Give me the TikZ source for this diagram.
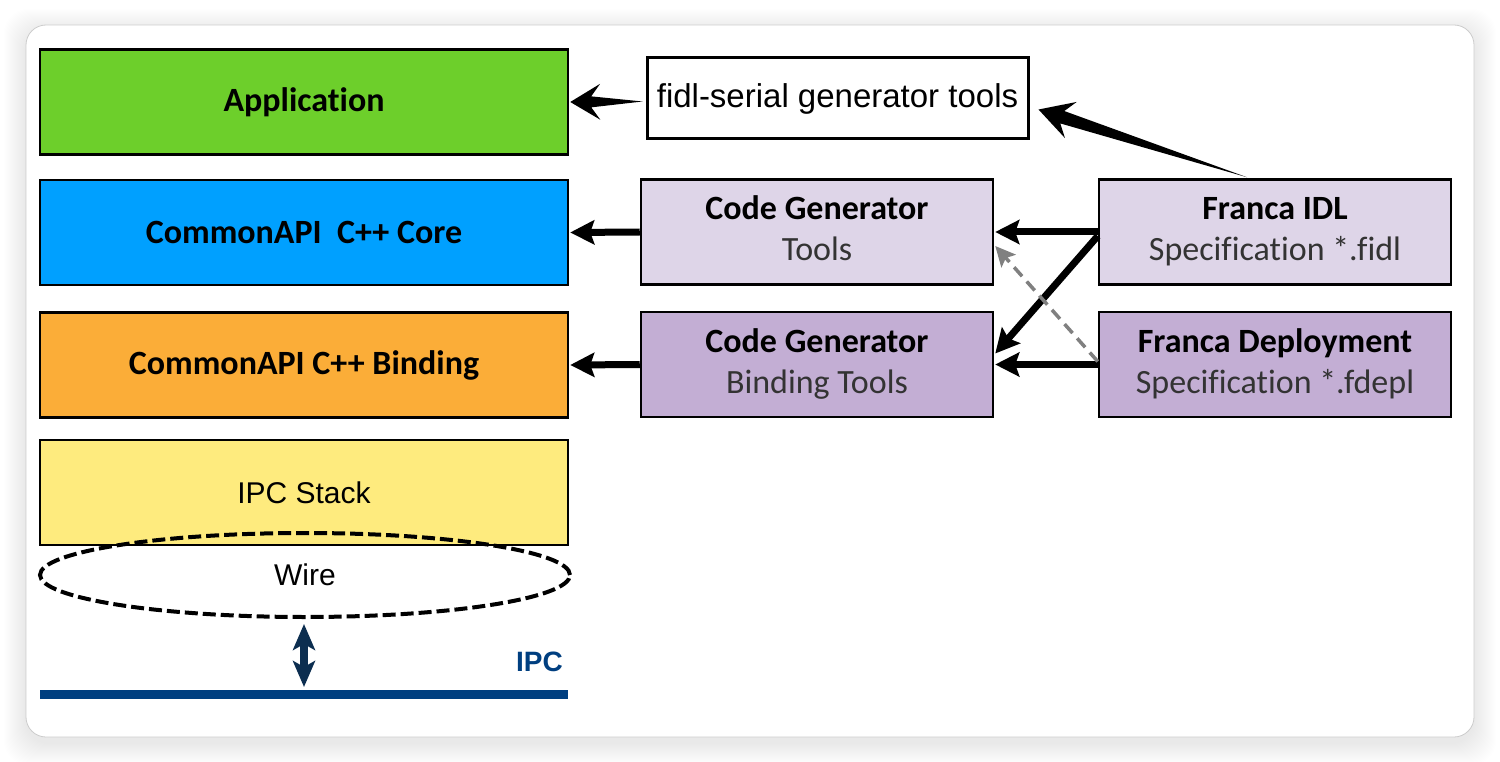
\documentclass[tikz,border=0pt]{standalone}
\usepackage{fontspec}
\setmainfont{Carlito}[Ligatures=NoCommon]
\newfontfamily\arialf{Liberation Sans}
\usetikzlibrary{arrows.meta,calc,shapes.geometric}
\definecolor{appgreen}{HTML}{6DCF2B}
\definecolor{coreblue}{HTML}{00A0FF}
\definecolor{bindorange}{HTML}{FBAD38}
\definecolor{stackyellow}{HTML}{FEEB7E}
\definecolor{lavlight}{HTML}{DED5E8}
\definecolor{lavdark}{HTML}{C3AED4}
\definecolor{ipcblue}{HTML}{003F80}
\definecolor{navy}{HTML}{0C2E50}
\tikzset{dtip/.tip={Stealth[length=26pt,width=22pt,inset=6pt]}}
\newcommand\wedgearrow[6]{%
  \coordinate (wT) at (#1);
  \coordinate (wP) at (#2);
  \coordinate (wB) at ($(wP)!#3!(wT)$);
  \coordinate (wN) at ($(wP)!#4!(wT)$);
  \fill (wP) -- ($(wB)!#5!90:(wT)$) -- ($(wN)!#6!90:(wT)$) -- (wT)
    -- ($(wN)!#6!-90:(wT)$) -- ($(wB)!#5!-90:(wT)$) -- cycle;}
\begin{document}
\begin{tikzpicture}[x=1pt,y=-1pt,
  box/.style={draw=black, line width=2.5pt, inner sep=0pt, align=center,
    font=\fontsize{34}{41}\selectfont},
  wide/.style={box, minimum width=528pt, minimum height=105pt},
  gen/.style={box, minimum width=352pt, minimum height=105pt},
  thickarrow/.style={line width=7pt, -{Stealth[length=24pt,width=24pt,inset=4pt]}},
  dasharrow/.style={line width=3.5pt, draw=black!50, dash pattern=on 12pt off 7pt,
    -{Stealth[length=20pt,width=19pt,inset=4pt,fill=black!50]}}]
\useasboundingbox (0,0) rectangle (1500,762);
\fill[white] (0,0) rectangle (1500,762);
% shadow and frame
\foreach \i in {1,...,22}{
  \fill[black, opacity=0.0055, rounded corners=24pt] (26-\i,25-\i+6) rectangle (1474+\i,737+\i+6);
}
\draw[fill=white, draw=black!20, line width=0.8pt, rounded corners=20pt] (26,25) rectangle (1474,737);

% left stack
\node[wide, fill=appgreen] (app) at (304,102) {\raisebox{-2pt}{\bfseries Application}};
\node[wide, fill=coreblue] (core) at (304,232.5) {\bfseries CommonAPI\ \ C++ Core};
\node[wide, fill=bindorange] (bind) at (304,365) {\raisebox{-2pt}{\bfseries CommonAPI C++ Binding}};
\node[wide, fill=stackyellow, font=\arialf\fontsize{30}{36}\selectfont] (stack) at (304,492.5) {IPC Stack};

% generators and specs
\node[gen, fill=lavlight] (cgt) at (817,232) {\textbf{Code Generator}\strut\\\textcolor{black!80}{Tools}\strut};
\node[gen, fill=lavdark] (cgb) at (817,364.5) {\textbf{Code Generator}\strut\\\textcolor{black!80}{Binding Tools}\strut};
\node[gen, fill=lavlight] (fidl) at (1275,232) {\textbf{Franca IDL}\strut\\\textcolor{black!80}{Specification *.fidl}\strut};
\node[gen, fill=lavdark] (fdep) at (1275,364.5) {\textbf{Franca Deployment}\strut\\\textcolor{black!80}{Specification *.fdepl}\strut};

% fidl-serial tool box
\node[draw=black, line width=3pt, fill=white, minimum width=381pt, minimum height=81pt,
  inner sep=0pt, font=\arialf\fontsize{33}{38}\selectfont] (fser) at (837.5,98.5) {\raisebox{-3pt}{fidl-serial generator tools}};

% wire ellipse
\node[ellipse, draw=black, line width=4pt, dash pattern=on 13pt off 5pt,
  minimum width=530pt, minimum height=84pt, inner sep=0pt,
  font=\arialf\fontsize{30}{36}\selectfont] (wire) at (305,575) {Wire};

% IPC bar
\coordinate (ipcL) at (40,694);
\coordinate (ipcR) at (568,694);
\coordinate (ipcT) at (304,687);
\draw[ipcblue, line width=9pt] (ipcL) -- (ipcR);
\node[anchor=east, inner sep=0pt, text=ipcblue, font=\arialf\bfseries\fontsize{28}{32}\selectfont] (ipclbl) at (563,662) {IPC};
\draw[navy, line width=8pt, {dtip}-{dtip}]
  ($(wire.south)+(-1,5)$) -- (ipcT);

% connectors
\draw[thickarrow] (cgt.west) -- ($(core.east)+(1,0)$);
\draw[thickarrow] (cgb.west) -- ($(bind.east)+(1,0)$);
\draw[thickarrow] (fidl.west) -- ($(cgt.east)+(1,0)$);
\draw[thickarrow] (fdep.west) -- ($(cgb.east)+(1,0)$);
\draw[thickarrow] ($(fidl.west)+(0,4)$) -- ($(cgb.east)+(1,-11)$);
\draw[dasharrow] ($(fdep.west)+(0,-3)$) -- ($(cgt.east)+(1,14)$);

% tapered arrows
\wedgearrow{$(fser.west)+(-3,3)$}{$(app.east)+(1,0)$}{30pt}{21pt}{18pt}{5.5pt}
\wedgearrow{$(fidl.north)+(-28,-1)$}{$(fser.east)+(9,11)$}{34pt}{25pt}{19pt}{6.5pt}
\end{tikzpicture}
\end{document}
